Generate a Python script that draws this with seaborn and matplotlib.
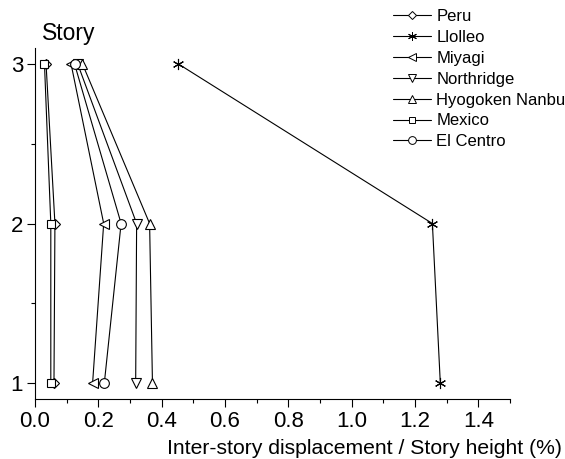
import numpy as np
import pandas as pd
import seaborn as sns
import matplotlib.pyplot as plt
from matplotlib.lines import Line2D
from matplotlib.ticker import MultipleLocator

# Data: drift ratio (%) per story, listed from story 3 down to story 1
stories = [3, 2, 1]
quakes = ['Peru', 'Llolleo', 'Miyagi', 'Northridge', 'Hyogoken Nanbu', 'Mexico', 'El Centro']
peru = [0.035, 0.063, 0.060]
llolleo = [0.453, 1.255, 1.280]
miyagi = [0.114, 0.217, 0.182]
northridge = [0.135, 0.321, 0.318]
hyogoken = [0.150, 0.362, 0.371]
mexico = [0.030, 0.050, 0.050]
el_centro = [0.125, 0.272, 0.219]

series = [peru, llolleo, miyagi, northridge, hyogoken, mexico, el_centro]
marker_map = {
    'Peru': 'D',
    'Llolleo': (6, 2, 0),
    'Miyagi': '<',
    'Northridge': 'v',
    'Hyogoken Nanbu': '^',
    'Mexico': 's',
    'El Centro': 'o',
}
size_map = {'Peru': 5.5, 'Llolleo': 8, 'Miyagi': 7, 'Northridge': 7,
            'Hyogoken Nanbu': 7, 'Mexico': 5.5, 'El Centro': 7}

rows = []
for name, vals in zip(quakes, series):
    for s, v in zip(stories, vals):
        rows.append({'quake': name, 'story': s, 'drift': v})
df = pd.DataFrame(rows)

sns.set_style('ticks')
plt.rcParams['font.family'] = ['Liberation Sans', 'DejaVu Sans']
plt.rcParams['text.color'] = 'black'

fig = plt.figure(figsize=(5.65, 4.59), dpi=100)
ax = fig.add_axes([0.0619, 0.1307, 0.8407, 0.7647])

for name in quakes:
    d = df[df['quake'] == name]
    sns.lineplot(data=d, x='drift', y='story', sort=False, estimator=None,
                 color='black', linewidth=0.8, marker=marker_map[name],
                 markersize=size_map[name], markerfacecolor='white',
                 markeredgecolor='black', markeredgewidth=0.8, ax=ax, legend=False)

ax.set_xlim(0, 1.5)
ax.set_ylim(0.9, 3.1)
ax.xaxis.set_major_locator(MultipleLocator(0.2))
ax.xaxis.set_minor_locator(MultipleLocator(0.1))
ax.yaxis.set_major_locator(MultipleLocator(1))
ax.yaxis.set_minor_locator(MultipleLocator(0.5))
ax.tick_params(axis='both', which='major', labelsize=16, length=5.5, width=0.8,
               color='black', labelcolor='black', pad=3)
ax.tick_params(axis='both', which='minor', length=3, width=0.8, color='black')
for side in ['top', 'right']:
    ax.spines[side].set_visible(False)
for side in ['left', 'bottom']:
    ax.spines[side].set_color('black')
    ax.spines[side].set_linewidth(0.8)
ax.set_xlabel('')
ax.set_ylabel('')

fig.text(0.995, 0.01, 'Inter-story displacement / Story height (%)',
         ha='right', va='baseline', fontsize=15.2, color='black')
fig.text(0.122, 0.927, 'Story', ha='center', va='center', fontsize=16.5, color='black')

handles = [Line2D([0], [0], color='black', linewidth=0.8, marker=marker_map[n],
                  markersize=size_map[n] * 0.8, markerfacecolor='white',
                  markeredgecolor='black', markeredgewidth=0.7)
           for n in quakes]
fig.legend(handles, quakes, loc='upper left', bbox_to_anchor=(0.6956, 0.98),
           frameon=False, fontsize=12, handlelength=2.3, handletextpad=0.3,
           labelspacing=0.35, borderaxespad=0, borderpad=0, labelcolor='black')

fig.savefig('out.png', dpi=100)
